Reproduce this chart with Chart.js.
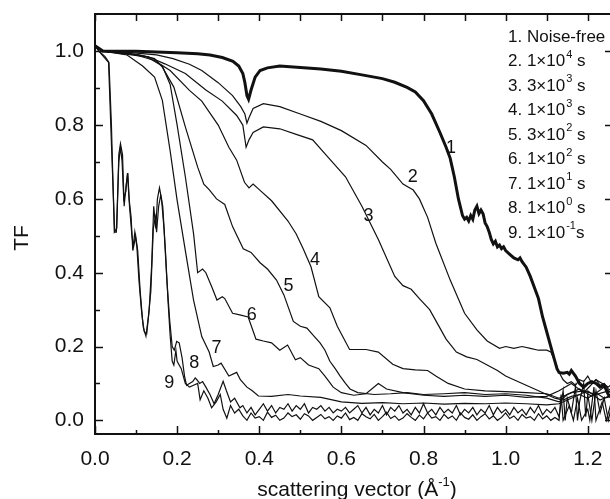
<!DOCTYPE html>
<html>
<head>
<meta charset="utf-8">
<script src="https://cdn.jsdelivr.net/npm/chart.js@4.4.1/dist/chart.umd.min.js"></script>
<style>
  html, body { margin: 0; padding: 0; background: #fff; overflow: hidden; }
</style>
</head>
<body>
<canvas id="tfChart" width="620" height="499"></canvas>
<script>
// Tick values
const xTicks = [0, 0.2, 0.4, 0.6, 0.8, 1.0, 1.2];
const xMinor = [0.1, 0.3, 0.5, 0.7, 0.9, 1.1];
const yTicks = [0, 0.2, 0.4, 0.6, 0.8, 1.0];
const yMinor = [0.1, 0.3, 0.5, 0.7, 0.9];

// Legend entries: prefix, exponent, suffix
const legendBase = ["1. Noise-free", "2. 1×10", "3. 3×10", "4. 1×10", "5. 3×10", "6. 1×10", "7. 1×10", "8. 1×10", "9. 1×10"];
const legendExp = ["", "4", "3", "3", "2", "2", "1", "0", "-1"];
const legendUnit = ["", " s", " s", " s", " s", " s", " s", " s", "s"];

// Curve number labels (q, TF)
const curveLabels = ["1", "2", "3", "4", "5", "6", "7", "8", "9"];
const labelPos = [[0.867, 0.739], [0.774, 0.658], [0.666, 0.553], [0.536, 0.435], [0.471, 0.365], [0.382, 0.286], [0.296, 0.196], [0.242, 0.156], [0.181, 0.101]];

// Transfer function curves, [q, TF]
const noiseFree = [[0,1.015],[0.02,1.0],[0.1,1.0],[0.15,0.998],[0.2,0.996],[0.25,0.993],[0.28,0.99],[0.31,0.983],[0.336,0.973],[0.35,0.96],[0.36,0.94],[0.365,0.915],[0.37,0.88],[0.374,0.87],[0.38,0.895],[0.39,0.93],[0.402,0.948],[0.42,0.955],[0.45,0.96],[0.5,0.956],[0.55,0.952],[0.6,0.946],[0.65,0.936],[0.7,0.926],[0.73,0.916],[0.76,0.902],[0.78,0.89],[0.8,0.866],[0.82,0.83],[0.84,0.78],[0.855,0.74],[0.865,0.71],[0.875,0.66],[0.885,0.6],[0.895,0.555],[0.9,0.545],[0.905,0.55],[0.91,0.54],[0.915,0.555],[0.92,0.545],[0.925,0.57],[0.93,0.58],[0.935,0.56],[0.94,0.57],[0.945,0.56],[0.95,0.535],[0.955,0.525],[0.96,0.51],[0.965,0.49],[0.97,0.478],[0.975,0.485],[0.98,0.47],[0.985,0.475],[0.99,0.465],[0.995,0.47],[1.0,0.46],[1.01,0.45],[1.02,0.44],[1.03,0.435],[1.035,0.44],[1.04,0.43],[1.05,0.415],[1.06,0.39],[1.07,0.36],[1.08,0.33],[1.09,0.28],[1.1,0.24],[1.11,0.2],[1.12,0.16],[1.125,0.14],[1.13,0.13],[1.14,0.128],[1.15,0.13],[1.155,0.125],[1.16,0.135],[1.17,0.12],[1.18,0.1],[1.19,0.09],[1.2,0.1],[1.21,0.105],[1.22,0.1],[1.23,0.09],[1.24,0.095],[1.25,0.07],[1.26,0.06]];
const t1e4 = [[0,1.015],[0.02,1.0],[0.08,0.997],[0.15,0.99],[0.19,0.98],[0.23,0.965],[0.26,0.948],[0.3,0.915],[0.335,0.88],[0.355,0.85],[0.365,0.83],[0.37,0.805],[0.375,0.82],[0.385,0.845],[0.41,0.858],[0.45,0.85],[0.5,0.83],[0.55,0.81],[0.6,0.785],[0.66,0.745],[0.7,0.7],[0.72,0.68],[0.75,0.64],[0.775,0.624],[0.79,0.6],[0.81,0.55],[0.83,0.48],[0.865,0.38],[0.9,0.29],[0.93,0.245],[0.955,0.215],[0.985,0.195],[1.0,0.2],[1.02,0.195],[1.04,0.2],[1.06,0.195],[1.08,0.19],[1.1,0.19],[1.11,0.185],[1.12,0.16],[1.13,0.13],[1.14,0.11],[1.15,0.1],[1.16,0.105],[1.17,0.095],[1.18,0.11],[1.19,0.105],[1.2,0.12],[1.21,0.1],[1.22,0.11],[1.23,0.095],[1.24,0.1],[1.25,0.085],[1.26,0.08]];
const t3e3 = [[0,1.015],[0.02,1.0],[0.08,0.995],[0.13,0.985],[0.17,0.966],[0.22,0.94],[0.27,0.895],[0.31,0.865],[0.345,0.826],[0.36,0.8],[0.368,0.74],[0.375,0.76],[0.385,0.78],[0.41,0.795],[0.45,0.79],[0.49,0.775],[0.53,0.76],[0.57,0.71],[0.61,0.66],[0.65,0.58],[0.69,0.49],[0.73,0.39],[0.75,0.365],[0.77,0.355],[0.79,0.33],[0.815,0.3],[0.835,0.26],[0.855,0.22],[0.88,0.185],[0.905,0.172],[0.93,0.165],[0.955,0.15],[0.98,0.135],[1.0,0.12],[1.02,0.11],[1.05,0.095],[1.08,0.08],[1.1,0.07],[1.12,0.06],[1.14,0.055],[1.16,0.065],[1.18,0.07],[1.2,0.06],[1.22,0.075],[1.24,0.06],[1.26,0.065]];
const t1e3 = [[0,1.015],[0.02,1.0],[0.05,0.998],[0.1,0.99],[0.145,0.975],[0.183,0.948],[0.23,0.894],[0.26,0.865],[0.3,0.8],[0.326,0.74],[0.345,0.705],[0.364,0.645],[0.375,0.63],[0.385,0.64],[0.4,0.625],[0.43,0.595],[0.47,0.54],[0.49,0.505],[0.507,0.465],[0.526,0.416],[0.545,0.335],[0.572,0.305],[0.59,0.255],[0.62,0.192],[0.66,0.192],[0.69,0.185],[0.725,0.152],[0.75,0.14],[0.78,0.137],[0.81,0.135],[0.83,0.12],[0.86,0.1],[0.9,0.085],[0.95,0.08],[1.0,0.078],[1.05,0.075],[1.1,0.072],[1.13,0.06],[1.16,0.075],[1.19,0.08],[1.22,0.07],[1.25,0.08],[1.26,0.075]];
const t3e2 = [[0,1.015],[0.02,1.0],[0.107,0.99],[0.145,0.98],[0.164,0.957],[0.192,0.903],[0.22,0.795],[0.25,0.686],[0.265,0.64],[0.278,0.625],[0.296,0.6],[0.316,0.585],[0.335,0.525],[0.361,0.465],[0.38,0.455],[0.402,0.427],[0.42,0.41],[0.442,0.38],[0.46,0.34],[0.483,0.268],[0.5,0.255],[0.516,0.25],[0.53,0.232],[0.548,0.21],[0.56,0.19],[0.572,0.16],[0.585,0.14],[0.597,0.12],[0.61,0.1],[0.621,0.085],[0.64,0.075],[0.68,0.07],[0.72,0.072],[0.76,0.075],[0.8,0.07],[0.85,0.072],[0.9,0.075],[0.95,0.07],[1.0,0.072],[1.05,0.068],[1.1,0.06],[1.13,0.05],[1.15,0.07],[1.18,0.085],[1.21,0.065],[1.24,0.09],[1.26,0.07]];
const t1e2 = [[0,1.015],[0.02,1.0],[0.126,0.985],[0.164,0.96],[0.183,0.91],[0.2,0.8],[0.22,0.66],[0.24,0.506],[0.25,0.4],[0.262,0.41],[0.27,0.4],[0.285,0.36],[0.297,0.326],[0.31,0.335],[0.316,0.33],[0.335,0.29],[0.355,0.285],[0.373,0.28],[0.392,0.22],[0.41,0.215],[0.43,0.21],[0.45,0.19],[0.469,0.204],[0.488,0.164],[0.5,0.17],[0.52,0.15],[0.545,0.14],[0.56,0.12],[0.58,0.09],[0.6,0.075],[0.63,0.068],[0.66,0.072],[0.69,0.1],[0.71,0.085],[0.75,0.075],[0.8,0.068],[0.85,0.065],[0.9,0.068],[0.95,0.065],[1.0,0.068],[1.05,0.062],[1.1,0.065],[1.13,0.08],[1.16,0.1],[1.19,0.075],[1.22,0.11],[1.25,0.09],[1.26,0.1]];
const t1e1 = [[0,1.015],[0.02,1.0],[0.078,0.99],[0.116,0.96],[0.145,0.93],[0.164,0.867],[0.183,0.73],[0.2,0.596],[0.22,0.46],[0.24,0.326],[0.26,0.227],[0.278,0.185],[0.288,0.146],[0.3,0.15],[0.307,0.155],[0.326,0.12],[0.345,0.13],[0.354,0.11],[0.37,0.09],[0.383,0.08],[0.398,0.066],[0.43,0.065],[0.47,0.07],[0.5,0.066],[0.55,0.062],[0.6,0.05],[0.65,0.046],[0.7,0.048],[0.75,0.045],[0.8,0.047],[0.85,0.044],[0.9,0.046],[0.95,0.045],[1.0,0.047],[1.05,0.045],[1.1,0.042],[1.13,0.045],[1.16,0.06],[1.2,0.08],[1.23,0.055],[1.26,0.07]];
const t1e0 = [[0,1.015],[0.01,1.0],[0.025,0.985],[0.034,0.97],[0.04,0.8],[0.047,0.51],[0.053,0.52],[0.058,0.72],[0.062,0.75],[0.067,0.72],[0.071,0.58],[0.076,0.64],[0.08,0.67],[0.084,0.58],[0.09,0.5],[0.094,0.47],[0.099,0.5],[0.104,0.46],[0.11,0.35],[0.116,0.27],[0.12,0.24],[0.126,0.235],[0.132,0.3],[0.138,0.42],[0.143,0.58],[0.148,0.52],[0.152,0.6],[0.157,0.63],[0.162,0.6],[0.168,0.52],[0.175,0.38],[0.182,0.27],[0.188,0.2],[0.193,0.19],[0.199,0.214],[0.205,0.21],[0.212,0.17],[0.218,0.12],[0.223,0.095],[0.23,0.1],[0.238,0.105],[0.244,0.115],[0.248,0.11],[0.255,0.1],[0.262,0.105],[0.27,0.09],[0.28,0.07],[0.29,0.045],[0.3,0.07],[0.312,0.106],[0.32,0.08],[0.33,0.05],[0.34,0.06],[0.353,0.034],[0.36,0.04],[0.37,0.02],[0.38,0.035],[0.39,0.015],[0.4,0.03],[0.41,0.045],[0.42,0.025],[0.43,0.04],[0.44,0.02],[0.45,0.035],[0.46,0.03],[0.47,0.045],[0.48,0.025],[0.49,0.04],[0.5,0.03],[0.51,0.045],[0.52,0.02],[0.53,0.035],[0.54,0.03],[0.55,0.04],[0.56,0.025],[0.57,0.035],[0.58,0.02],[0.59,0.03],[0.6,0.025],[0.61,0.035],[0.62,0.02],[0.63,0.03],[0.64,0.04],[0.65,0.02],[0.66,0.035],[0.67,0.015],[0.68,0.03],[0.69,0.02],[0.7,0.04],[0.71,0.015],[0.72,0.035],[0.73,0.025],[0.74,0.04],[0.75,0.02],[0.76,0.03],[0.77,0.015],[0.78,0.035],[0.79,0.02],[0.8,0.045],[0.81,0.02],[0.82,0.03],[0.83,0.015],[0.84,0.035],[0.85,0.02],[0.86,0.03],[0.87,0.02],[0.88,0.04],[0.89,0.015],[0.9,0.03],[0.91,0.02],[0.92,0.035],[0.93,0.015],[0.94,0.03],[0.95,0.02],[0.96,0.04],[0.97,0.015],[0.98,0.035],[0.99,0.02],[1.0,0.03],[1.01,0.015],[1.02,0.035],[1.03,0.02],[1.04,0.03],[1.05,0.015],[1.06,0.035],[1.07,0.02],[1.08,0.04],[1.09,0.015],[1.1,0.03],[1.11,0.02],[1.12,0.035],[1.13,0.01],[1.14,0.08],[1.145,0.0],[1.15,0.06],[1.16,0.02],[1.17,0.09],[1.175,0.0],[1.18,0.05],[1.19,0.1],[1.195,0.01],[1.2,0.07],[1.21,0.0],[1.22,0.08],[1.23,0.02],[1.24,0.06],[1.25,0.0],[1.26,0.05]];
const t1em1 = [[0,1.015],[0.01,1.0],[0.025,0.98],[0.033,0.97],[0.04,0.75],[0.048,0.51],[0.052,0.51],[0.058,0.7],[0.062,0.74],[0.066,0.7],[0.07,0.6],[0.075,0.62],[0.079,0.67],[0.083,0.6],[0.088,0.55],[0.092,0.46],[0.097,0.51],[0.102,0.47],[0.107,0.38],[0.113,0.3],[0.118,0.25],[0.124,0.228],[0.13,0.28],[0.136,0.35],[0.142,0.52],[0.147,0.55],[0.15,0.51],[0.155,0.58],[0.16,0.61],[0.165,0.58],[0.172,0.45],[0.178,0.32],[0.183,0.23],[0.188,0.16],[0.192,0.15],[0.197,0.19],[0.2,0.16],[0.21,0.14],[0.22,0.1],[0.23,0.09],[0.24,0.095],[0.25,0.1],[0.256,0.056],[0.265,0.08],[0.275,0.06],[0.284,0.034],[0.295,0.05],[0.305,0.07],[0.312,0.03],[0.321,0.006],[0.33,0.04],[0.34,0.02],[0.35,0.03],[0.36,0.012],[0.37,0.0],[0.38,0.02],[0.39,0.006],[0.4,0.01],[0.41,0.0],[0.42,0.022],[0.43,0.008],[0.44,0.014],[0.45,0.0],[0.46,0.006],[0.47,0.02],[0.48,0.01],[0.49,0.015],[0.5,0.003],[0.51,0.018],[0.52,0.012],[0.53,0.0],[0.54,0.008],[0.55,0.016],[0.56,0.004],[0.57,0.01],[0.58,0.0],[0.59,0.012],[0.6,0.006],[0.61,0.02],[0.62,0.002],[0.63,0.008],[0.64,0.0],[0.65,0.018],[0.66,0.01],[0.67,0.004],[0.68,0.016],[0.69,0.0],[0.7,0.01],[0.71,0.022],[0.72,0.005],[0.73,0.012],[0.74,0.0],[0.75,0.006],[0.76,0.018],[0.77,0.008],[0.78,0.0],[0.79,0.014],[0.8,0.004],[0.81,0.02],[0.82,0.006],[0.83,0.01],[0.84,0.0],[0.85,0.016],[0.86,0.005],[0.87,0.012],[0.88,0.0],[0.89,0.02],[0.9,0.008],[0.91,0.003],[0.92,0.015],[0.93,0.0],[0.94,0.01],[0.95,0.018],[0.96,0.004],[0.97,0.012],[0.98,0.0],[0.99,0.008],[1.0,0.02],[1.01,0.005],[1.02,0.012],[1.03,0.0],[1.04,0.016],[1.05,0.006],[1.06,0.01],[1.07,0.0],[1.08,0.018],[1.09,0.004],[1.1,0.012],[1.11,0.0],[1.12,0.008],[1.13,0.0],[1.135,0.07],[1.14,0.0],[1.155,0.04],[1.165,0.0],[1.175,0.06],[1.185,0.0],[1.2,0.03],[1.205,0.0],[1.215,0.09],[1.22,0.0],[1.235,0.05],[1.245,0.0],[1.255,0.04],[1.26,0.01]];

const curves = [noiseFree, t1e4, t3e3, t1e3, t3e2, t1e2, t1e1, t1e0, t1em1];

const FONT = "'Liberation Sans', Arial, sans-serif";

function toXY(arr) {
  return arr.map(p => ({ x: p[0], y: p[1] }));
}

// no label overhang padding, so the plot box is set by layout padding alone
function noOverhang(s) {
  s.paddingTop = 0; s.paddingBottom = 0;
  s.paddingLeft = 0; s.paddingRight = 0;
}

// Draws frame, inward ticks, titles, legend text and curve numbers
const decorPlugin = {
  id: "decor",
  afterDraw(chart) {
    const ctx = chart.ctx;
    const area = chart.chartArea;
    const xs = chart.scales.x;
    const ys = chart.scales.y;
    ctx.save();
    ctx.strokeStyle = "#111";
    ctx.fillStyle = "#111";

    // frame
    ctx.lineWidth = 2;
    ctx.strokeRect(area.left, area.top, area.right - area.left, area.bottom - area.top);

    // ticks pointing inward
    ctx.lineWidth = 1.5;
    ctx.beginPath();
    xTicks.forEach(v => {
      const px = Math.round(xs.getPixelForValue(v)) + 0.5;
      ctx.moveTo(px, area.bottom); ctx.lineTo(px, area.bottom - 8);
      ctx.moveTo(px, area.top); ctx.lineTo(px, area.top + 7);
    });
    xMinor.forEach(v => {
      const px = Math.round(xs.getPixelForValue(v)) + 0.5;
      ctx.moveTo(px, area.bottom); ctx.lineTo(px, area.bottom - 4);
      ctx.moveTo(px, area.top); ctx.lineTo(px, area.top + 7);
    });
    yTicks.forEach(v => {
      const py = Math.round(ys.getPixelForValue(v)) + 0.5;
      ctx.moveTo(area.left, py); ctx.lineTo(area.left + 8, py);
      ctx.moveTo(area.right, py); ctx.lineTo(area.right - 7, py);
    });
    yMinor.forEach(v => {
      const py = Math.round(ys.getPixelForValue(v)) + 0.5;
      ctx.moveTo(area.left, py); ctx.lineTo(area.left + 5, py);
    });
    ctx.stroke();

    // x title with superscript
    ctx.textBaseline = "alphabetic";
    ctx.font = "21px " + FONT;
    const t1 = "scattering vector (Å";
    const w1 = ctx.measureText(t1).width;
    ctx.font = "13px " + FONT;
    const wExp = ctx.measureText("-1").width;
    ctx.font = "21px " + FONT;
    const w2 = ctx.measureText(")").width;
    const sx = 357 - (w1 + wExp + w2) / 2;
    const by = 496;
    ctx.textAlign = "left";
    ctx.fillText(t1, sx, by);
    ctx.font = "13px " + FONT;
    ctx.fillText("-1", sx + w1, by - 10);
    ctx.font = "21px " + FONT;
    ctx.fillText(")", sx + w1 + wExp, by);

    // y title
    ctx.save();
    ctx.translate(22, 238);
    ctx.rotate(-Math.PI / 2);
    ctx.textAlign = "center";
    ctx.textBaseline = "middle";
    ctx.font = "21px " + FONT;
    ctx.fillText("TF", 0, 0);
    ctx.restore();

    // legend text (no line samples in the original)
    ctx.textAlign = "left";
    ctx.textBaseline = "middle";
    legendBase.forEach((txt, i) => {
      const ly = 37 + i * 24.5;
      let lx = 508;
      ctx.font = "17px " + FONT;
      ctx.fillText(txt, lx, ly);
      lx += ctx.measureText(txt).width;
      if (legendExp[i]) {
        ctx.font = "11px " + FONT;
        ctx.fillText(legendExp[i], lx + 1, ly - 7);
        lx += ctx.measureText(legendExp[i]).width + 1;
        ctx.font = "17px " + FONT;
        ctx.fillText(legendUnit[i], lx, ly);
      }
    });

    // curve numbers
    ctx.textAlign = "center";
    ctx.font = "18px " + FONT;
    curveLabels.forEach((lab, i) => {
      ctx.fillText(lab, xs.getPixelForValue(labelPos[i][0]), ys.getPixelForValue(labelPos[i][1]));
    });
    ctx.restore();
  }
};

new Chart(document.getElementById("tfChart"), {
  type: "line",
  data: {
    datasets: curves.map((c, i) => ({
      label: curveLabels[i],
      data: toXY(c),
      borderColor: "#111",
      borderWidth: i === 0 ? 3 : 1.2,
      pointRadius: 0,
      tension: 0,
      fill: false
    }))
  },
  options: {
    responsive: false,
    animation: false,
    events: [],
    layout: { padding: { top: 14, right: 8, left: 0, bottom: 0 } },
    plugins: { legend: { display: false }, tooltip: { enabled: false } },
    scales: {
      x: {
        type: "linear",
        min: 0,
        max: 1.259,
        grid: { display: false },
        border: { display: false },
        afterBuildTicks: s => { s.ticks = xTicks.map(v => ({ value: v })); },
        afterFit: s => { s.height = 65; noOverhang(s); },
        ticks: {
          padding: 5,
          color: "#111",
          font: { family: FONT, size: 21 },
          callback: v => v.toFixed(1)
        }
      },
      y: {
        type: "linear",
        min: -0.037,
        max: 1.101,
        grid: { display: false },
        border: { display: false },
        afterBuildTicks: s => { s.ticks = yTicks.map(v => ({ value: v })); },
        afterFit: s => { s.width = 95; noOverhang(s); },
        ticks: {
          padding: 3,
          color: "#111",
          font: { family: FONT, size: 21 },
          callback: v => v.toFixed(1)
        }
      }
    }
  },
  plugins: [decorPlugin]
});
</script>
</body>
</html>
